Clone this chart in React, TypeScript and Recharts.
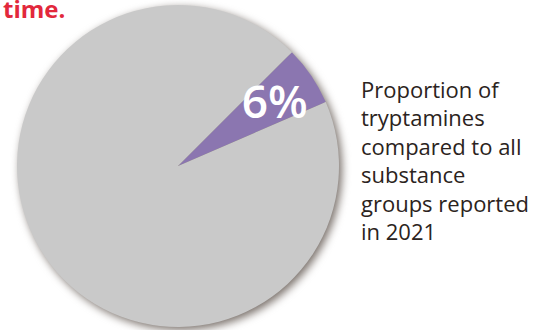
import { PieChart, Pie, Cell } from 'recharts';

const groups = ['Tryptamines', 'Other substance groups'];
const shares = [6, 94];
const sliceColors = ['#8b76b0', '#c9c9c9'];
const captionLines = [
  'Proportion of',
  'tryptamines',
  'compared to all',
  'substance',
  'groups reported',
  'in 2021',
];

const data = groups.map((name, i) => ({ name, value: shares[i] }));
const RAD = Math.PI / 180;

const renderPct = (props: any) => {
  const { cx, cy, midAngle, index, percent } = props;
  if (index !== 0) return null;
  const r = 117;
  const x = cx + r * Math.cos(-midAngle * RAD);
  const y = cy + r * Math.sin(-midAngle * RAD);
  return (
    <text
      x={x}
      y={y}
      fill="#fff"
      textAnchor="middle"
      dominantBaseline="central"
      fontFamily="'Open Sans', sans-serif"
      fontWeight={600}
      fontSize={46}
    >
      {`${Math.round(percent * 100)}%`}
    </text>
  );
};

export default function App() {
  return (
    <div style={{ position: 'absolute', left: 0, top: 0, width: 547, height: 330, background: '#fff' }}>
      <PieChart width={547} height={330} margin={{ top: 0, right: 0, bottom: 0, left: 0 }}>
        {/* soft drop shadow behind the pie */}
        <Pie
          data={[{ name: 'shadow', value: 1 }]}
          dataKey="value"
          cx={181}
          cy={169}
          outerRadius={161}
          stroke="none"
          isAnimationActive={false}
        >
          <Cell fill="#7a716b" style={{ filter: 'blur(4px)' }} />
        </Pie>
        <Pie
          data={data}
          dataKey="value"
          cx={178}
          cy={166}
          outerRadius={161}
          startAngle={23.4}
          endAngle={383.4}
          stroke="none"
          labelLine={false}
          label={renderPct}
          isAnimationActive={false}
        >
          {data.map((d, i) => (
            <Cell key={d.name} fill={sliceColors[i]} />
          ))}
        </Pie>
        <text
          x={3}
          y={18}
          fill="#e2283c"
          fontFamily="'Open Sans', sans-serif"
          fontWeight={700}
          fontSize={24}
        >
          time.
        </text>
        <text x={361} y={98} fill="#2b2320" fontFamily="'Open Sans', sans-serif" fontSize={22}>
          {captionLines.map((line, i) => (
            <tspan key={line} x={361} dy={i === 0 ? 0 : 28.4}>
              {line}
            </tspan>
          ))}
        </text>
      </PieChart>
    </div>
  );
}
